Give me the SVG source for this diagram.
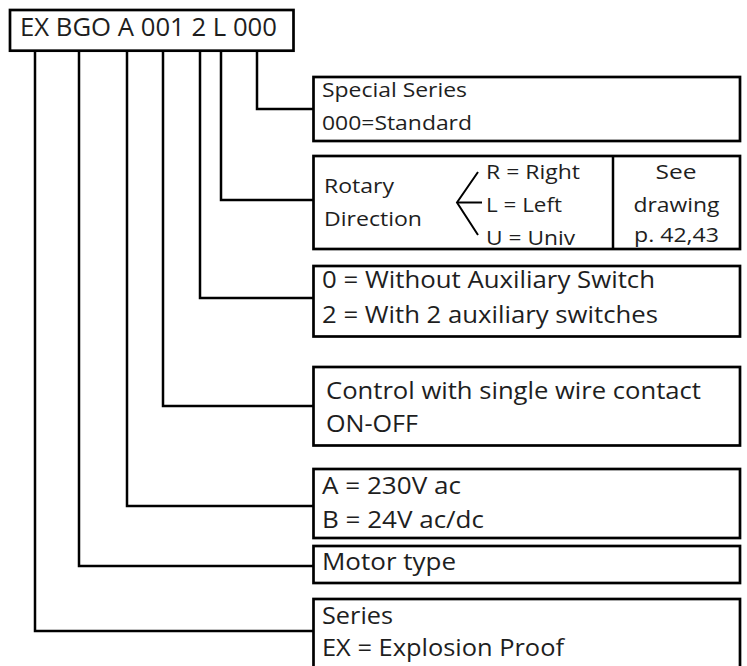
<svg xmlns="http://www.w3.org/2000/svg" width="747" height="666" viewBox="0 0 747 666">
<style>
.box{fill:#fff;stroke:#000;stroke-width:2.7}
.ln{fill:none;stroke:#000;stroke-width:2.5}
.br{fill:none;stroke:#000;stroke-width:2}
text{font-family:"Open Sans","Liberation Sans",sans-serif;fill:#1e1e1e}
.t{font-size:23.5px}
.c{font-size:24.5px}
.s{font-size:20px}
.h{font-size:25.5px}
.m{text-anchor:middle}
</style>
<rect width="747" height="666" fill="#fff"/>
<g id="connectors">
<polyline class="ln" points="257,51 257,109 313,109"/>
<polyline class="ln" points="221,51 221,200 313,200"/>
<polyline class="ln" points="200,51 200,298 313,298"/>
<polyline class="ln" points="163,51 163,406 313,406"/>
<polyline class="ln" points="127,51 127,506 313,506"/>
<polyline class="ln" points="79,51 79,566 313,566"/>
<polyline class="ln" points="35,51 35,631 313,631"/>
</g>
<g id="code">
<rect class="box" x="10" y="10" width="283.5" height="40.7"/>
<text class="h" x="20" y="36" textLength="257" lengthAdjust="spacingAndGlyphs">EX BGO A 001 2 L 000</text>
</g>
<g id="special">
<rect class="box" x="313.5" y="77" width="426.5" height="64"/>
<text class="s" x="322" y="97" textLength="145" lengthAdjust="spacingAndGlyphs">Special Series</text>
<text class="s" x="322" y="130" textLength="150" lengthAdjust="spacingAndGlyphs">000=Standard</text>
</g>
<g id="rotary">
<rect class="box" x="313.5" y="156" width="426.5" height="93"/>
<line class="ln" x1="613" y1="156" x2="613" y2="249"/>
<text class="s" x="324" y="193" textLength="70" lengthAdjust="spacingAndGlyphs">Rotary</text>
<text class="s" x="324" y="226" textLength="98" lengthAdjust="spacingAndGlyphs">Direction</text>
<polyline class="br" points="478,172 457,202.5 478,235"/>
<line class="br" x1="457" y1="202.5" x2="482" y2="202.5"/>
<text class="s" x="486" y="179" textLength="94" lengthAdjust="spacingAndGlyphs">R = Right</text>
<text class="s" x="486" y="212" textLength="76" lengthAdjust="spacingAndGlyphs">L = Left</text>
<text class="s" x="486" y="244.5" textLength="89" lengthAdjust="spacingAndGlyphs">U = Univ</text>
<text class="s m" x="676" y="178.5" textLength="41" lengthAdjust="spacingAndGlyphs">See</text>
<text class="s m" x="676.5" y="212" textLength="86" lengthAdjust="spacingAndGlyphs">drawing</text>
<text class="s m" x="676.5" y="242" textLength="85" lengthAdjust="spacingAndGlyphs">p. 42,43</text>
</g>
<g id="auxiliary">
<rect class="box" x="313.5" y="266" width="426.5" height="70.5"/>
<text class="t" x="322" y="287.5" textLength="333" lengthAdjust="spacingAndGlyphs">0 = Without Auxiliary Switch</text>
<text class="t" x="322" y="322.5" textLength="336" lengthAdjust="spacingAndGlyphs">2 = With 2 auxiliary switches</text>
</g>
<g id="control">
<rect class="box" x="313.5" y="367" width="426.5" height="78.5"/>
<text class="c" x="326" y="398.5" textLength="375" lengthAdjust="spacingAndGlyphs">Control with single wire contact</text>
<text class="c" x="326" y="432" textLength="92" lengthAdjust="spacingAndGlyphs">ON-OFF</text>
</g>
<g id="voltage">
<rect class="box" x="313.5" y="469" width="426.5" height="69"/>
<text class="t" x="322" y="493.5" textLength="139" lengthAdjust="spacingAndGlyphs">A = 230V ac</text>
<text class="t" x="322" y="528" textLength="162" lengthAdjust="spacingAndGlyphs">B = 24V ac/dc</text>
</g>
<g id="motor">
<rect class="box" x="313.5" y="546" width="426.5" height="37"/>
<text class="t" x="322" y="569.5" textLength="134" lengthAdjust="spacingAndGlyphs">Motor type</text>
</g>
<g id="series">
<rect class="box" x="313.5" y="599" width="426.5" height="90"/>
<text class="t" x="322" y="623.5" textLength="71" lengthAdjust="spacingAndGlyphs">Series</text>
<text class="t" x="322" y="656" textLength="242" lengthAdjust="spacingAndGlyphs">EX = Explosion Proof</text>
</g>
</svg>
